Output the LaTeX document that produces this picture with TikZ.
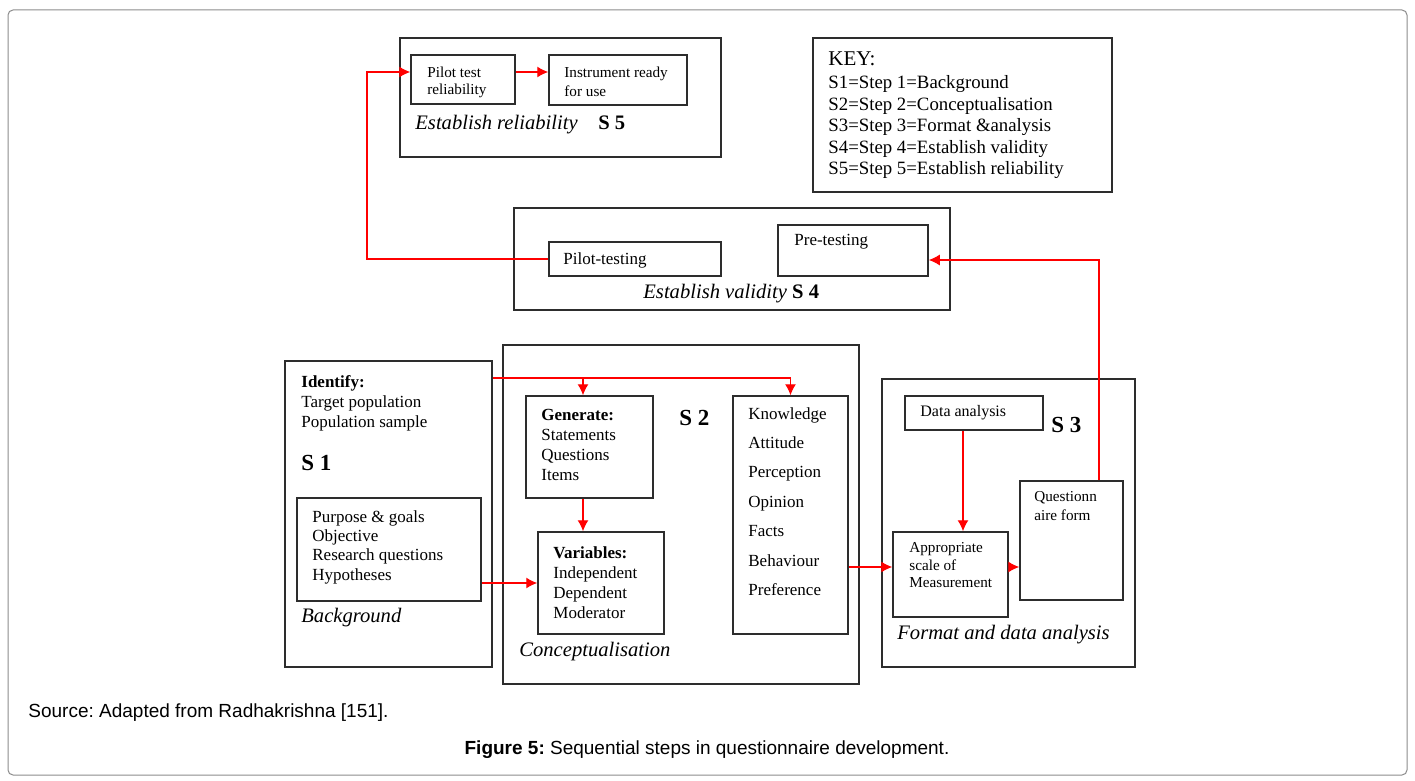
\documentclass[tikz,border=0pt]{standalone}
\usepackage{fontspec}
\setmainfont{Liberation Serif}
\newfontfamily\captionfont{Liberation Sans}
\usetikzlibrary{arrows.meta,fit}
\definecolor{framegray}{RGB}{140,140,140}
\definecolor{boxline}{RGB}{45,45,45}
\newcommand{\sz}[2]{\fontsize{#1}{#2}\selectfont}
\frenchspacing
\tikzstyle{stepbox} = [draw=boxline, line width=0.75pt, inner sep=0pt]
\tikzstyle{block} = [draw=boxline, line width=0.75pt, inner sep=0pt]
\tikzstyle{txt} = [anchor=north west, inner sep=0pt, align=left]
\tikzstyle{steptxt} = [anchor=west, inner sep=0pt]
\tikzstyle{flow} = [draw=red, line width=0.6pt, ->]

\begin{document}
\begin{tikzpicture}[x=0.5pt, y=-0.5pt, >={Latex[length=5.5pt,width=5.5pt]}]
    % frame
    \useasboundingbox (0,0) rectangle (1415,781);
    \fill [white] (0,0) rectangle (1415,781);
    \draw [framegray, line width=0.5pt, rounded corners=2.5pt] (8,10) rectangle (1407,775);
    % step 5
    \node [stepbox, name=s5box, fit={(400,38) (721,157)}] {};
    \node [block, name=pilotrel, fit={(411,55) (515,104)}] {};
    \node [block, name=ready, fit={(549,55) (687,105)}] {};
    \node [txt, name=pilotreltxt, font=\sz{7.6}{8.5}] at (427,66.5) {Pilot test\\reliability};
    \node [txt, name=readytxt, font=\sz{7.6}{9.5}] at (564,66.5) {Instrument ready\\for use};
    \node [steptxt, name=s5txt] at (415,125) {\sz{10.3}{12}\textit{Establish reliability}\quad\textbf{S 5}};
    % key
    \node [stepbox, name=keybox, fit={(813,38) (1112,192)}] {};
    \node [steptxt, name=keyhead, font=\sz{10.5}{12}] at (828,59) {KEY:};
    \node [txt, name=keytxt, font=\sz{9.4}{10.75}] at (828,75.5) {S1=Step 1=Background\\S2=Step 2=Conceptualisation\\S3=Step 3=Format \&analysis\\S4=Step 4=Establish validity\\S5=Step 5=Establish reliability};
    % step 4
    \node [stepbox, name=s4box, fit={(514,208) (950,310)}] {};
    \node [block, name=pilottest, fit={(549,242) (721,276)}] {};
    \node [block, name=pretest, fit={(778,225) (928,276)}] {};
    \node [steptxt, name=pilottesttxt, font=\sz{8.5}{10}] at (563,260) {Pilot-testing};
    \node [steptxt, name=pretesttxt, font=\sz{8.5}{10}] at (794,242) {Pre-testing};
    \node [steptxt, name=s4txt] at (643,294) {\sz{10.3}{12}\textit{Establish validity} \textbf{S 4}};
    % step 1
    \node [stepbox, name=s1box, fit={(285,361) (492,667)}] {};
    \node [txt, name=identify, font=\sz{8.5}{10}] at (301,375) {\textbf{Identify:}\\Target population\\Population sample};
    \node [steptxt, name=s1txt, font=\sz{11.5}{13}\bfseries] at (301,463) {S 1};
    \node [block, name=purpose, fit={(297,498) (481,601)}] {};
    \node [txt, name=purposetxt, font=\sz{8.5}{9.7}] at (312,510) {Purpose \& goals\\Objective\\Research questions\\Hypotheses};
    \node [steptxt, name=backtxt, font=\sz{10.3}{12}\itshape] at (301,618) {Background};
    % step 2
    \node [stepbox, name=s2box, fit={(503,345) (859,684)}] {};
    \node [block, name=generate, fit={(526,396) (653,498)}] {};
    \node [txt, name=generatetxt, font=\sz{8.5}{10}] at (541,409) {\textbf{Generate:}\\Statements\\Questions\\Items};
    \node [block, name=variables, fit={(538,532) (664,634)}] {};
    \node [txt, name=variablestxt, font=\sz{8.5}{10}] at (553,546) {\textbf{Variables:}\\Independent\\Dependent\\Moderator};
    \node [block, name=knowledge, fit={(733,396) (848,634)}] {};
    \node [txt, name=knowledgetxt, font=\sz{8.5}{14.7}] at (748,407) {Knowledge\\Attitude\\Perception\\Opinion\\Facts\\Behaviour\\Preference};
    \node [steptxt, name=s2txt, font=\sz{11.5}{13}\bfseries] at (679,418) {S 2};
    \node [steptxt, name=concepttxt, font=\sz{10.3}{12}\itshape] at (519,652) {Conceptualisation};
    % step 3
    \node [stepbox, name=s3box, fit={(882,379) (1135,667)}] {};
    \node [block, name=dataan, fit={(905,396) (1043,430)}] {};
    \node [steptxt, name=dataantxt, font=\sz{8}{10}] at (920,413) {Data analysis};
    \node [steptxt, name=s3txt, font=\sz{11.5}{13}\bfseries] at (1051,425) {S 3};
    \node [block, name=questform, fit={(1020,481) (1123,600)}] {};
    \node [txt, name=questformtxt, font=\sz{7.6}{9.5}] at (1034,491.5) {Questionn\\aire form};
    \node [block, name=scale, fit={(893,532) (1008,617)}] {};
    \node [txt, name=scaletxt, font=\sz{7.6}{8.75}] at (909,542.5) {Appropriate\\scale of\\Measurement};
    \node [steptxt, name=formattxt, font=\sz{10.3}{12}\itshape] at (897,635) {Format and data analysis};
    % source and caption
    \node [steptxt, name=source, font=\captionfont\sz{9.5}{11}] at (28,713) {Source: Adapted from Radhakrishna [151].};
    \node [inner sep=0pt, name=caption, font=\captionfont\sz{9.5}{11}] at (707,750) {\textbf{Figure 5:} Sequential steps in questionnaire development.};
    % edges
    \coordinate (loopx) at (367,72);
    \coordinate (prerow) at (1099,260);
    \coordinate (idrow) at (583,378);
    \coordinate (scalerow) at (0,567);
    \coordinate (dacol) at (963,0);
    \draw [flow] (pilottest.west) -| (loopx) -- (loopx -| pilotrel.west);
    \draw [flow] (pilotrel.east |- loopx) -- (ready.west |- loopx);
    \draw [flow] (questform.north -| prerow) -- (prerow) -- (prerow -| pretest.east);
    \draw [flow] (s1box.east |- idrow) -| (knowledge.north);
    \draw [flow] (idrow) -- (idrow |- generate.north);
    \draw [flow] (idrow |- generate.south) -- (idrow |- variables.north);
    \draw [flow] (purpose.east |- variables.west) -- (variables.west);
    \draw [flow] (knowledge.east |- scalerow) -- (scale.west |- scalerow);
    \draw [flow] (scale.east |- scalerow) -- (questform.west |- scalerow);
    \draw [flow] (dacol |- dataan.south) -- (dacol |- scale.north);
\end{tikzpicture}
\end{document}
